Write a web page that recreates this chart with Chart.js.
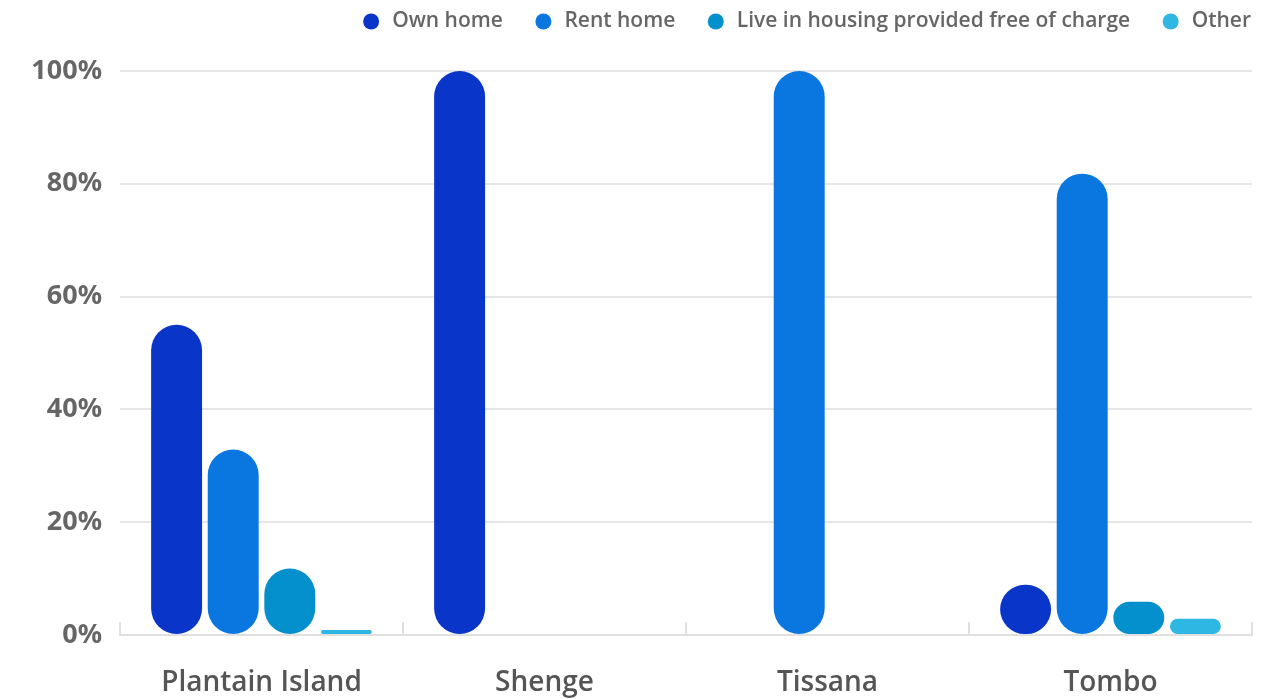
<!DOCTYPE html>
<html>
<head>
<meta charset="utf-8">
<script src="https://cdn.jsdelivr.net/npm/chart.js@4"></script>
<style>
  html, body { margin: 0; padding: 0; background: #fff; }
  #wrap { width: 1281px; height: 699px; }
</style>
</head>
<body>
<div id="wrap"><canvas id="housingChart"></canvas></div>
<script>
// ===== data =====
const categories = ['Plantain Island', 'Shenge', 'Tissana', 'Tombo'];
const seriesNames = ['Own home', 'Rent home', 'Live in housing provided free of charge', 'Other'];
const ownHome = [55, 100, 0, 8.9];
const rentHome = [32.9, 0, 100, 81.8];
const freeHousing = [11.8, 0, 0, 5.9];
const otherHousing = [0.9, 0, 0, 2.9];
const yTicks = [0, 20, 40, 60, 80, 100];

const colors = ['#0a35c9', '#0a76e0', '#0390cc', '#2fb7e3'];
const seriesData = [ownHome, rentHome, freeHousing, otherHousing];

const ctx = document.getElementById('housingChart').getContext('2d');

// extra room under the legend
const legendGap = {
    id: 'legendGap',
    beforeInit(chart) {
        const origFit = chart.legend.fit;
        chart.legend.fit = function () {
            origFit.bind(chart.legend)();
            this.height += 29;
        };
    }
};

new Chart(ctx, {
    type: 'bar',
    data: {
        labels: categories,
        datasets: seriesData.map((vals, i) => ({
            label: seriesNames[i],
            data: vals,
            backgroundColor: colors[i],
            borderRadius: 100,
            borderSkipped: false,
            yAxisID: 'y'
        }))
    },
    plugins: [legendGap],
    options: {
        responsive: true,
        maintainAspectRatio: false,
        animation: false,
        layout: { padding: { left: 0, right: 0, top: -19, bottom: 0 } },
        plugins: {
            legend: {
                position: 'top',
                align: 'end',
                labels: {
                    usePointStyle: true,
                    pointStyle: 'circle',
                    boxWidth: 22,
                    boxHeight: 11.3,
                    padding: 30,
                    color: '#666',
                    font: { family: 'Open Sans', size: 21, weight: '600' }
                }
            },
            tooltip: { enabled: false }
        },
        scales: {
            x: {
                afterFit: axis => { axis.height = 64; },
                grid: {
                    offset: true,
                    drawOnChartArea: false,
                    color: '#e0e0e0',
                    lineWidth: 2,
                    tickLength: -13
                },
                border: { color: '#e0e0e0', width: 2 },
                ticks: {
                    color: '#555',
                    padding: 44,
                    font: { family: 'Open Sans', size: 28, weight: '600' }
                }
            },
            y: {
                min: 0,
                max: 100,
                afterBuildTicks: axis => { axis.ticks = yTicks.map(v => ({ value: v })); },
                afterFit: axis => { axis.width = 120; },
                grid: {
                    color: '#e6e6e6',
                    lineWidth: 2,
                    drawTicks: false
                },
                border: { display: false },
                ticks: {
                    color: '#666',
                    padding: 18,
                    font: { family: 'Noto Sans', size: 27, weight: 'bold' },
                    callback: v => v + '%'
                }
            },
            yRight: {
                position: 'right',
                min: 0,
                max: 100,
                afterFit: axis => { axis.width = 29; },
                grid: { display: false },
                border: { display: false },
                ticks: { display: false }
            }
        }
    }
});
</script>
</body>
</html>
